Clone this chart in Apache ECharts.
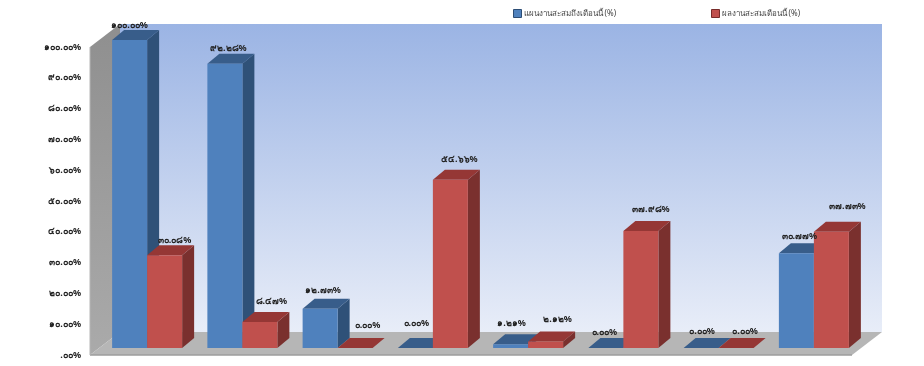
<!DOCTYPE html>
<html><head><meta charset="utf-8">
<style>html,body{margin:0;padding:0;background:#fff}#c{width:924px;height:366px}</style>
<script src="https://cdn.jsdelivr.net/npm/echarts@6/dist/echarts.min.js"></script></head>
<body><div id="c"></div>
<script>
var categories = ['1','2','3','4','5','6','7','8'];
var planValues = [100.00, 92.28, 12.73, 0.00, 1.21, 0.00, 0.00, 30.77];
var actualValues = [30.08, 8.47, 0.00, 54.66, 2.12, 37.98, 0.00, 37.73];
var planName = 'แผนงานสะสมถึงเดือนนี้ (%)';
var actualName = 'ผลงานสะสมเดือนนี้ (%)';

// label placement relative to each bar, kept apart from the values
var planLabelLift = [15,15,18,25,21,16,17,17];
var actualLabelLift = [15,20,23,20,22,22,17,25];
var planLabelShift = [0,3.5,3,1,1,-1.5,1,3];
var actualLabelShift = [10,11.5,12.5,9,12,10,9,16];

var FONT = '"Noto Sans","DejaVu Sans","Liberation Sans",sans-serif';
var THAI = '๐๑๒๓๔๕๖๗๘๙';
function thaiDigits(s){return s.replace(/\d/g,function(d){return THAI[d];});}
function tick(v){return thaiDigits(v.toFixed(2).replace(/^0\./,'.'))+'%';}
function full(v){return thaiDigits(v.toFixed(2))+'%';}

var DX=30, DY=23;      // wall depth
var BX=12, BY=10;      // bar depth
var OY=7;              // bars stand in front of the wall plane
var GX=9.5;            // pair offset from category centre
var BW=35;

function wallItem(params, api){
  var r=params.coordSys, l=r.x, t=r.y, w=r.width, h=r.height, b=t+h;
  return {type:'group',silent:true,children:[
    {type:'polygon',shape:{points:[[l+DX,t-DY],[l+DX+w,t-DY],[l+DX+w,b-DY],[l+DX,b-DY]]},
      style:{fill:new echarts.graphic.LinearGradient(0,0,0,1,[{offset:0,color:'#9bb4e4'},{offset:1,color:'#e8edf8'}])}},
    {type:'polygon',shape:{points:[[l,t],[l+DX,t-DY],[l+DX,b-DY],[l,b]]},
      style:{fill:new echarts.graphic.LinearGradient(0,0,0,1,[{offset:0,color:'#8f8f8f'},{offset:1,color:'#aaaaaa'}])}},
    {type:'polygon',shape:{points:[[l,b],[l+DX,b-DY],[l+DX+w,b-DY],[l+w,b]]},style:{fill:'#b6b6b6'}},
    {type:'line',shape:{x1:l,y1:b,x2:l+w,y2:b},style:{stroke:'#9c9c9c',lineWidth:1.5}},
    {type:'line',shape:{x1:l,y1:t,x2:l,y2:b},style:{stroke:'#b5b5b5',lineWidth:1}}
  ]};
}
function barRender(side, front, top, right){
  return function(params, api){
    var c=api.coord([api.value(0),api.value(1)]);
    var z=api.coord([api.value(0),0]);
    var x0=c[0]+GX+(side<0?-BW:0), x1=x0+BW;
    var y1=c[1]-OY, yb=z[1]-OY;
    return {type:'group',children:[
      {type:'polygon',shape:{points:[[x1,y1],[x1+BX,y1-BY],[x1+BX,yb-BY],[x1,yb]]},style:{fill:right}},
      {type:'polygon',shape:{points:[[x0,y1],[x0+BX,y1-BY],[x1+BX,y1-BY],[x1,y1]]},style:{fill:top}},
      {type:'rect',shape:{x:x0,y:y1,width:BW,height:yb-y1},style:{fill:front}}
    ]};
  };
}
function labelRender(side, shifts, lifts){
  return function(params, api){
    var c=api.coord([api.value(0),api.value(1)]);
    var i=params.dataIndex;
    var cx=c[0]+GX+(side<0?-BW/2:BW/2)+shifts[i];
    return {type:'text',silent:true,style:{x:cx,y:c[1]-OY-lifts[i],text:full(api.value(1)),
      font:'bold 9px '+FONT,fill:'#222',align:'center',verticalAlign:'middle'}};
  };
}
function rows(a){return a.map(function(v,i){return [categories[i],v];});}
function legendAt(left,name,fill,edge){
  return {left:left,top:9,padding:0,itemWidth:8,itemHeight:8,
    textStyle:{fontFamily:FONT,fontSize:8,color:'#444',padding:[0,0,0,-3]},
    data:[{name:name,icon:'rect',itemStyle:{color:fill,borderColor:edge,borderWidth:1}}]};
}
var chart=echarts.init(document.getElementById('c'),null,{renderer:'canvas'});
chart.setOption({
  animation:false,backgroundColor:'#fff',
  legend:[legendAt(513,planName,'#4f81bd','#2c4d75'),legendAt(711,actualName,'#c0504d','#772c2a')],
  grid:{left:90,right:72,top:47,bottom:11},
  xAxis:{type:'category',data:categories,axisLabel:{show:false},axisTick:{show:false},axisLine:{show:false}},
  yAxis:{type:'value',min:0,max:100,interval:10,splitLine:{show:false},axisLine:{show:false},axisTick:{show:false},
    axisLabel:{margin:9,fontFamily:FONT,fontWeight:'bold',fontSize:9,color:'#222',formatter:function(v){return tick(v);}}},
  series:[
    {type:'custom',name:'walls',silent:true,z:1,renderItem:wallItem,data:[[0,0]],encode:{x:0,y:1}},
    {type:'custom',name:planName,z:2,renderItem:barRender(-1,'#4f81bd','#385d8a','#2f5178'),data:rows(planValues),encode:{x:0,y:1},itemStyle:{color:'#4f81bd'}},
    {type:'custom',name:actualName,z:3,renderItem:barRender(1,'#c0504d','#953735','#7a302e'),data:rows(actualValues),encode:{x:0,y:1},itemStyle:{color:'#c0504d'}},
    {type:'custom',name:'planLabels',z:4,silent:true,renderItem:labelRender(-1,planLabelShift,planLabelLift),data:rows(planValues),encode:{x:0,y:1}},
    {type:'custom',name:'actualLabels',z:4,silent:true,renderItem:labelRender(1,actualLabelShift,actualLabelLift),data:rows(actualValues),encode:{x:0,y:1}}
  ]
});
</script></body></html>
